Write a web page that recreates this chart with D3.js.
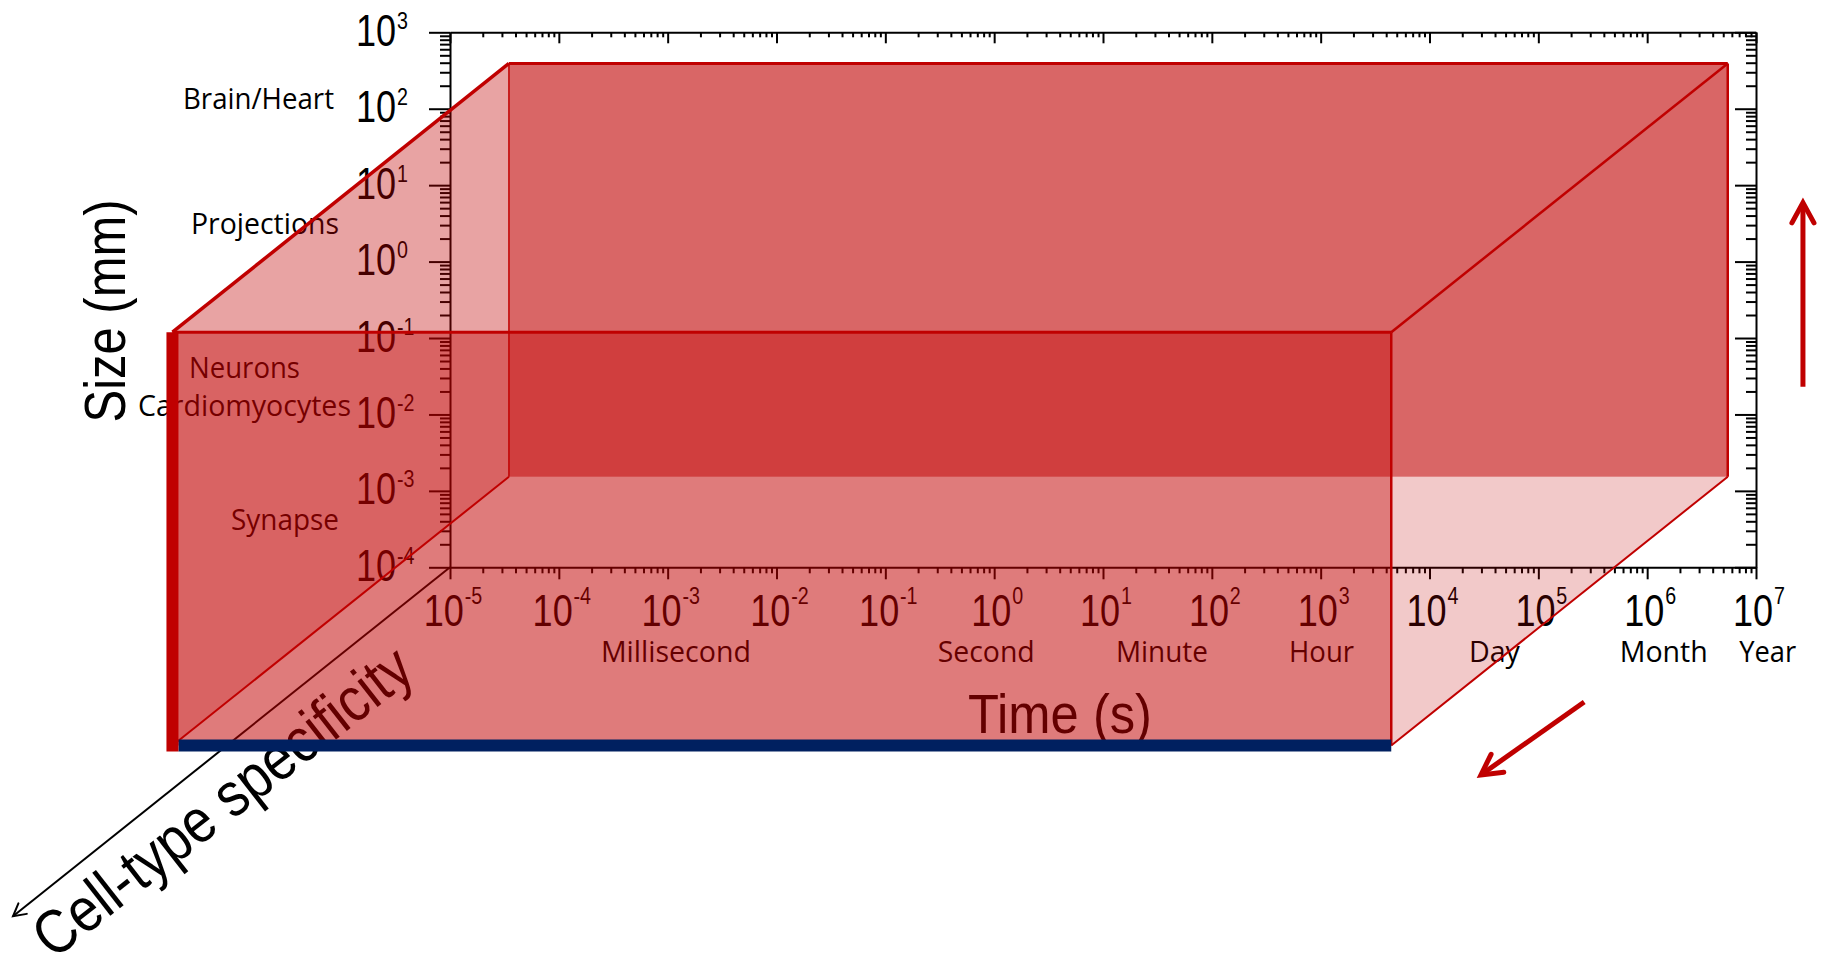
<!DOCTYPE html>
<html>
<head>
<meta charset="utf-8">
<script src="https://cdn.jsdelivr.net/npm/d3@7"></script>
<style>
  html, body { margin: 0; padding: 0; background: #ffffff; }
  svg { display: block; }
</style>
</head>
<body>
<svg id="chart" width="1826" height="959"></svg>
<script>
// ---------------- data ----------------
const timeTickExponents = [-5, -4, -3, -2, -1, 0, 1, 2, 3, 4, 5, 6, 7];
const sizeTickExponents = [-4, -3, -2, -1, 0, 1, 2, 3];

const timeUnitLabels = ["Millisecond", "Second", "Minute", "Hour", "Day", "Month", "Year"];
const timeUnitSeconds = [1.19e-3, 0.845, 34.8, 1019, 3.95e4, 1.42e6, 1.28e7];
const timeUnitWidths = [150, 97, 92, 65, 51, 88, 57];

const sizeLabels = ["Brain/Heart", "Projections", "Neurons", "Cardiomyocytes", "Synapse"];
const sizeLabelMM = [134, 3.1, 0.0406, 0.0129, 4.17e-4];
const sizeLabelLeft = [183, 191, 189, 138, 231];
const sizeLabelWidths = [151, 148, 111, 213, 108];

// box (time in s, size in mm, cell-type specificity 0..1)
const boxTime = [3.48e-5, 5.5e6];
const boxSize = [1.53e-3, 391];
const boxSpec = [0, 0.77];

// red direction arrows (time, size) pairs
const upArrow = { t: 2.7e7, s0: 0.0231, s1: 5.9 };
const diagArrow = { t0: 2.64e5, s0: 1.73e-6, t1: 2.97e4, s1: 1.92e-7 };

// ---------------- scales ----------------
const svg = d3.select("#chart");
const x = d3.scaleLog().domain([1e-5, 1e7]).range([450, 1756]);
const y = d3.scaleLog().domain([1e-4, 1e3]).range([567.3, 32.3]);
const zx = d3.scaleLinear().domain([0, 1]).range([0, -437]);
const zy = d3.scaleLinear().domain([0, 1]).range([0, 349]);
const proj = (t, s, c) => [x(t) + zx(c), y(s) + zy(c)];

const RED = "#c00000";
const NUM_FONT = "'Liberation Sans', Arial, sans-serif";
const LBL_FONT = "'Open Sans', 'Noto Sans', sans-serif";

const x0 = x.range()[0], x1 = x.range()[1];
const yB = y.range()[0], yT = y.range()[1];

// ---------------- axes / frame ----------------
const isMajor = v => Math.abs(Math.log10(v) - Math.round(Math.log10(v))) < 1e-6;
const xMajor = timeTickExponents.map(e => Math.pow(10, e));
const yMajor = sizeTickExponents.map(e => Math.pow(10, e));
const xMinor = x.ticks(40).filter(v => !isMajor(v));
const yMinor = y.ticks(40).filter(v => !isMajor(v));

function styleAxis(g, keepDomain) {
  g.selectAll("line").attr("stroke", "#000").attr("stroke-width", 2);
  if (keepDomain) g.select(".domain").attr("stroke", "#000").attr("stroke-width", 2);
  else g.select(".domain").remove();
  g.selectAll("text").remove();
}

const axes = svg.append("g");
const mk = (axisFn, scale, vals, size, tr, keep) => {
  const g = axes.append("g").attr("transform", tr)
    .call(axisFn(scale).tickValues(vals).tickSize(size).tickSizeOuter(0).tickFormat(""));
  styleAxis(g, keep);
};
mk(d3.axisBottom, x, xMajor, 12, `translate(0,${yB})`, true);
mk(d3.axisBottom, x, xMinor, 6, `translate(0,${yB})`, false);
mk(d3.axisTop, x, xMajor, -11, `translate(0,${yT})`, true);
mk(d3.axisTop, x, xMinor, -5, `translate(0,${yT})`, false);
mk(d3.axisLeft, y, yMajor, 21, `translate(${x0},0)`, true);
mk(d3.axisLeft, y, yMinor, 10, `translate(${x0},0)`, false);
mk(d3.axisRight, y, yMajor, -21, `translate(${x1},0)`, true);
mk(d3.axisRight, y, yMinor, -10, `translate(${x1},0)`, false);

// power-of-ten tick labels ("10" + superscript exponent), horizontally condensed
const CONDENSE = 0.82;
function powLabel(g, px, py, e, supDy, anchor) {
  const t = g.append("text")
    .attr("transform", `translate(${px},${py}) scale(${CONDENSE},1)`)
    .attr("text-anchor", anchor);
  t.append("tspan").attr("font-size", 44).text("10");
  t.append("tspan").attr("dx", 1).attr("dy", supDy).attr("font-size", 24).text(String(e));
}
const xl = axes.append("g").attr("font-family", NUM_FONT).attr("fill", "#000");
timeTickExponents.forEach(e => powLabel(xl, x(Math.pow(10, e)) + 3, yB + 58.5, e, -22, "middle"));
const yl = axes.append("g").attr("font-family", NUM_FONT).attr("fill", "#000");
sizeTickExponents.forEach(e => powLabel(yl, 356, y(Math.pow(10, e)) + 13.5, e, -17, "start"));

// time unit labels
const tu = axes.append("g").attr("font-family", LBL_FONT).attr("font-size", 29).attr("fill", "#000");
timeUnitLabels.forEach((lab, i) => {
  tu.append("text").attr("x", x(timeUnitSeconds[i])).attr("y", yB + 95)
    .attr("text-anchor", "middle")
    .attr("textLength", timeUnitWidths[i]).attr("lengthAdjust", "spacingAndGlyphs")
    .text(lab);
});

// size category labels
sizeLabels.forEach((lab, i) => {
  tu.append("text").attr("x", sizeLabelLeft[i]).attr("y", y(sizeLabelMM[i])).attr("dy", "0.36em")
    .attr("textLength", sizeLabelWidths[i]).attr("lengthAdjust", "spacingAndGlyphs")
    .text(lab);
});

// axis titles
axes.append("text").attr("font-family", NUM_FONT).attr("font-size", 56)
  .attr("text-anchor", "middle").attr("x", 1060).attr("y", 733)
  .attr("textLength", 184).attr("lengthAdjust", "spacingAndGlyphs")
  .text("Time (s)");
axes.append("text").attr("font-family", NUM_FONT).attr("font-size", 57)
  .attr("text-anchor", "middle")
  .attr("transform", "translate(125,311) rotate(-90)")
  .attr("textLength", 223).attr("lengthAdjust", "spacingAndGlyphs")
  .text("Size (mm)");

// cell-type specificity axis (oblique)
const o = proj(1e-5, 1e-4, 0), oe = proj(1e-5, 1e-4, 1);
const ang = Math.atan2(oe[1] - o[1], oe[0] - o[0]);
function arrowHead(g, tip, dirAng, len, spread, color, width) {
  const back = dirAng + Math.PI;
  const a1 = [tip[0] + len * Math.cos(back + spread), tip[1] + len * Math.sin(back + spread)];
  const a2 = [tip[0] + len * Math.cos(back - spread), tip[1] + len * Math.sin(back - spread)];
  g.append("path").attr("d", `M${a1[0]},${a1[1]}L${tip[0]},${tip[1]}L${a2[0]},${a2[1]}`)
    .attr("fill", "none").attr("stroke", color).attr("stroke-width", width)
    .attr("stroke-linecap", "round").attr("stroke-linejoin", "miter");
}
axes.append("line").attr("x1", o[0]).attr("y1", o[1]).attr("x2", oe[0]).attr("y2", oe[1])
  .attr("stroke", "#000").attr("stroke-width", 2);
arrowHead(axes, oe, ang, 14, 0.5, "#000", 2);

const mid = proj(1e-5, 1e-4, 0.58);
const ax = (oe[0] - o[0]), ay = (oe[1] - o[1]);
const AL = Math.hypot(ax, ay);
const nx = -ay / AL, ny = ax / AL;
const sgn = ny > 0 ? 1 : -1;
const off = 62;
axes.append("text").attr("font-family", NUM_FONT).attr("font-size", 62)
  .attr("text-anchor", "middle")
  .attr("transform", `translate(${mid[0] + sgn * nx * off},${mid[1] + sgn * ny * off}) rotate(-38)`)
  .attr("textLength", 462).attr("lengthAdjust", "spacingAndGlyphs")
  .text("Cell-type specificity");

// ---------------- box faces ----------------
const [t0, t1] = boxTime, [s0, s1] = boxSize, [c0, c1] = boxSpec;
const faces = [
  { pts: [proj(t0, s1, c0), proj(t1, s1, c0), proj(t1, s0, c0), proj(t0, s0, c0)], a: 0.6 },
  { pts: [proj(t0, s1, c0), proj(t0, s1, c1), proj(t0, s0, c1), proj(t0, s0, c0)], a: 0.36 },
  { pts: [proj(t0, s0, c0), proj(t1, s0, c0), proj(t1, s0, c1), proj(t0, s0, c1)], a: 0.21 },
  { pts: [proj(t0, s1, c1), proj(t1, s1, c1), proj(t1, s0, c1), proj(t0, s0, c1)], a: 0.39 }
];
const box = svg.append("g");
box.selectAll("path.face").data(faces).join("path").attr("class", "face")
  .attr("d", d => "M" + d.pts.map(p => p.join(",")).join("L") + "Z")
  .attr("fill", RED).attr("fill-opacity", d => d.a).attr("stroke", "none");

// edges
const edges = [
  { a: proj(t0, s1, c0), b: proj(t1, s1, c0), w: 3 },
  { a: proj(t1, s1, c0), b: proj(t1, s0, c0), w: 2.5 },
  { a: proj(t0, s1, c0), b: proj(t0, s0, c0), w: 1.5 },
  { a: proj(t0, s1, c1), b: proj(t1, s1, c1), w: 3 },
  { a: proj(t1, s1, c1), b: proj(t1, s0, c1), w: 2.5 },
  { a: proj(t0, s1, c1), b: proj(t0, s1, c0), w: 3.5 },
  { a: proj(t1, s1, c1), b: proj(t1, s1, c0), w: 2.5 },
  { a: proj(t0, s0, c1), b: proj(t0, s0, c0), w: 2 },
  { a: proj(t1, s0, c1), b: proj(t1, s0, c0), w: 2 }
];
box.selectAll("line.edge").data(edges).join("line").attr("class", "edge")
  .attr("x1", d => d.a[0]).attr("y1", d => d.a[1]).attr("x2", d => d.b[0]).attr("y2", d => d.b[1])
  .attr("stroke", RED).attr("stroke-width", d => d.w);

// thick blue bottom edge and thick red left edge of the front face
const fbl = proj(t0, s0, c1), fbr = proj(t1, s0, c1), ftl = proj(t0, s1, c1);
box.append("line").attr("x1", fbl[0] + 6).attr("y1", fbl[1]).attr("x2", fbr[0]).attr("y2", fbr[1])
  .attr("stroke", "#002060").attr("stroke-width", 12);
box.append("line").attr("x1", ftl[0]).attr("y1", ftl[1]).attr("x2", fbl[0]).attr("y2", fbl[1] + 6)
  .attr("stroke", RED).attr("stroke-width", 12);

// ---------------- red direction arrows ----------------
const arr = svg.append("g");
const ua = [x(upArrow.t), y(upArrow.s0)], ub = [x(upArrow.t), y(upArrow.s1)];
arr.append("line").attr("x1", ua[0]).attr("y1", ua[1]).attr("x2", ub[0]).attr("y2", ub[1] + 2)
  .attr("stroke", RED).attr("stroke-width", 5);
arrowHead(arr, ub, Math.atan2(ub[1] - ua[1], ub[0] - ua[0]), 23, 0.5, RED, 5);
const da = [x(diagArrow.t0), y(diagArrow.s0)], db = [x(diagArrow.t1), y(diagArrow.s1)];
arr.append("line").attr("x1", da[0]).attr("y1", da[1]).attr("x2", db[0] + 2).attr("y2", db[1] - 1.5)
  .attr("stroke", RED).attr("stroke-width", 5);
arrowHead(arr, db, Math.atan2(db[1] - da[1], db[0] - da[0]), 23, 0.5, RED, 5);
</script>
</body>
</html>
